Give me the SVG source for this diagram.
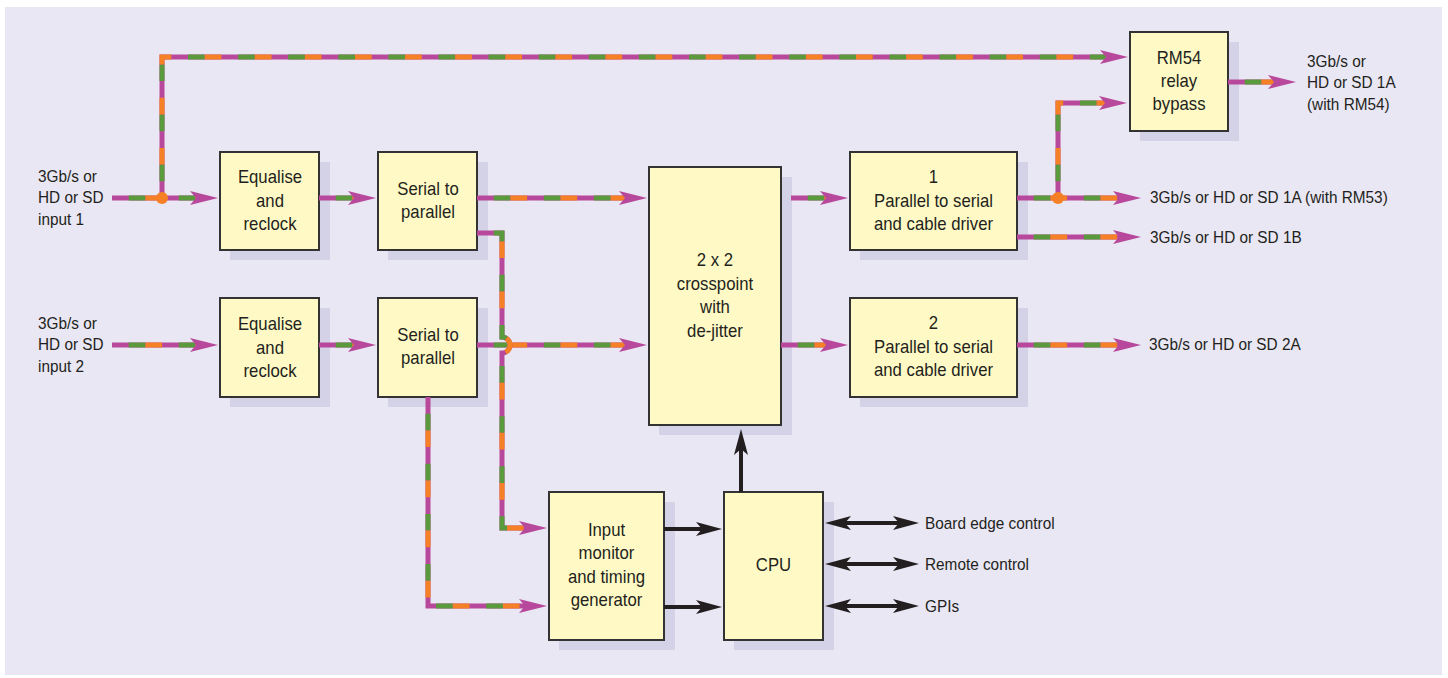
<svg xmlns="http://www.w3.org/2000/svg" xmlns:xlink="http://www.w3.org/1999/xlink" width="1448" height="678" viewBox="0 0 1448 678">
<style>
.bg{fill:#e9e7f3}
.sh{fill:#d4d2e7}
.box{fill:#fffac5;stroke:#333;stroke-width:2}
.t{font-family:"Liberation Sans",Arial,sans-serif;font-size:18px;fill:#231f20}
.l{font-family:"Liberation Sans",Arial,sans-serif;font-size:16.5px;fill:#231f20}
.w{fill:none;stroke-width:5}
.m{stroke:#b8489b}
.g{stroke:#5a9a3c;stroke-dasharray:16.7 33.4;stroke-dashoffset:-16.7}
.o{stroke:#f58025;stroke-dasharray:16.7 33.4;stroke-dashoffset:-33.4;marker-end:url(#ah)}
.k{fill:none;stroke:#231f20;stroke-width:4}
</style>
<defs>
<marker id="ah" markerUnits="userSpaceOnUse" markerWidth="28" markerHeight="16" viewBox="0 0 28 16" refX="14" refY="8" orient="auto" overflow="visible">
<path d="M0,1 L28,8 L0,15 L6,8 Z" fill="#b8489b"/>
</marker>
<marker id="kh" markerUnits="userSpaceOnUse" markerWidth="26" markerHeight="14" viewBox="0 0 26 14" refX="12" refY="7" orient="auto-start-reverse" overflow="visible">
<path d="M0,0 L26,7 L0,14 L6,7 Z" fill="#231f20"/>
</marker>
<path id="c1" d="M112,198 H204"/>
<path id="c2" d="M162,198 V57 H1114"/>
<path id="c3" d="M319,198 H362"/>
<path id="c4" d="M477,198 H633"/>
<path id="c5" d="M477,233 H502 V337 A8,8 0 0 1 502,353 V528 H533"/>
<path id="c6" d="M112,345 H204"/>
<path id="c7" d="M319,345 H362"/>
<path id="c8" d="M477,345 H633"/>
<path id="c9" d="M428,397 V606 H533"/>
<path id="c10" d="M791,198 H834"/>
<path id="c11" d="M781,345 H834"/>
<path id="c12" d="M1017,198 H1127"/>
<path id="c13" d="M1058,198 V103 H1113"/>
<path id="c14" d="M1017,237 H1127"/>
<path id="c15" d="M1017,345 H1127"/>
<path id="c16" d="M1228,82 H1282"/>
</defs>
<rect class="bg" x="5" y="7" width="1437" height="668"/>
<g id="eq1"><rect class="sh" x="230" y="162" width="100" height="98"/><rect class="box" x="220" y="152" width="99" height="98"/>
<text class="t" text-anchor="middle" transform="translate(270,0) scale(0.93,1)"><tspan x="0" y="183">Equalise</tspan><tspan x="0" y="207">and</tspan><tspan x="0" y="230">reclock</tspan></text></g>
<g id="sp1"><rect class="sh" x="388" y="162" width="100" height="98"/><rect class="box" x="378" y="152" width="99" height="98"/>
<text class="t" text-anchor="middle" transform="translate(428,0) scale(0.93,1)"><tspan x="0" y="195">Serial to</tspan><tspan x="0" y="218">parallel</tspan></text></g>
<g id="eq2"><rect class="sh" x="230" y="308" width="100" height="99"/><rect class="box" x="220" y="298" width="99" height="99"/>
<text class="t" text-anchor="middle" transform="translate(270,0) scale(0.93,1)"><tspan x="0" y="330">Equalise</tspan><tspan x="0" y="354">and</tspan><tspan x="0" y="377">reclock</tspan></text></g>
<g id="sp2"><rect class="sh" x="388" y="308" width="100" height="99"/><rect class="box" x="378" y="298" width="99" height="99"/>
<text class="t" text-anchor="middle" transform="translate(428,0) scale(0.93,1)"><tspan x="0" y="341">Serial to</tspan><tspan x="0" y="364">parallel</tspan></text></g>
<g id="xp"><rect class="sh" x="659" y="177" width="133" height="258"/><rect class="box" x="649" y="167" width="132" height="258"/>
<text class="t" text-anchor="middle" transform="translate(715,0) scale(0.93,1)"><tspan x="0" y="266">2 x 2</tspan><tspan x="0" y="290">crosspoint</tspan><tspan x="0" y="313">with</tspan><tspan x="0" y="337">de-jitter</tspan></text></g>
<g id="p1"><rect class="sh" x="860" y="162" width="168" height="98"/><rect class="box" x="850" y="152" width="167" height="98"/>
<text class="t" text-anchor="middle" transform="translate(933.500,0) scale(0.93,1)"><tspan x="0" y="183">1</tspan><tspan x="0" y="207">Parallel to serial</tspan><tspan x="0" y="230">and cable driver</tspan></text></g>
<g id="p2"><rect class="sh" x="860" y="308" width="168" height="99"/><rect class="box" x="850" y="298" width="167" height="99"/>
<text class="t" text-anchor="middle" transform="translate(933.500,0) scale(0.93,1)"><tspan x="0" y="329">2</tspan><tspan x="0" y="353">Parallel to serial</tspan><tspan x="0" y="376">and cable driver</tspan></text></g>
<g id="rm54"><rect class="sh" x="1140" y="42" width="99" height="99"/><rect class="box" x="1130" y="32" width="98" height="99"/>
<text class="t" text-anchor="middle" transform="translate(1179,0) scale(0.93,1)"><tspan x="0" y="64">RM54</tspan><tspan x="0" y="87">relay</tspan><tspan x="0" y="110">bypass</tspan></text></g>
<g id="mon"><rect class="sh" x="559" y="502" width="116" height="148"/><rect class="box" x="549" y="492" width="115" height="148"/>
<text class="t" text-anchor="middle" transform="translate(606.500,0) scale(0.93,1)"><tspan x="0" y="536">Input</tspan><tspan x="0" y="559">monitor</tspan><tspan x="0" y="583">and timing</tspan><tspan x="0" y="606">generator</tspan></text></g>
<g id="cpu"><rect class="sh" x="734" y="502" width="100" height="148"/><rect class="box" x="724" y="492" width="99" height="148"/>
<text class="t" text-anchor="middle" transform="translate(773.500,0) scale(0.93,1)"><tspan x="0" y="571">CPU</tspan></text></g>
<g id="connectors">
<g class="w"><use xlink:href="#c1" class="m"/><use xlink:href="#c1" class="g"/><use xlink:href="#c1" class="o"/></g>
<g class="w"><use xlink:href="#c2" class="m"/><use xlink:href="#c2" class="g"/><use xlink:href="#c2" class="o"/></g>
<g class="w"><use xlink:href="#c3" class="m"/><use xlink:href="#c3" class="g"/><use xlink:href="#c3" class="o"/></g>
<g class="w"><use xlink:href="#c4" class="m"/><use xlink:href="#c4" class="g"/><use xlink:href="#c4" class="o"/></g>
<g class="w"><use xlink:href="#c6" class="m"/><use xlink:href="#c6" class="g"/><use xlink:href="#c6" class="o"/></g>
<g class="w"><use xlink:href="#c7" class="m"/><use xlink:href="#c7" class="g"/><use xlink:href="#c7" class="o"/></g>
<g class="w"><use xlink:href="#c8" class="m"/><use xlink:href="#c8" class="g"/><use xlink:href="#c8" class="o"/></g>
<g class="w"><use xlink:href="#c5" class="m"/><use xlink:href="#c5" class="g"/><use xlink:href="#c5" class="o"/></g>
<g class="w"><use xlink:href="#c9" class="m"/><use xlink:href="#c9" class="g"/><use xlink:href="#c9" class="o"/></g>
<g class="w"><use xlink:href="#c10" class="m"/><use xlink:href="#c10" class="g"/><use xlink:href="#c10" class="o"/></g>
<g class="w"><use xlink:href="#c11" class="m"/><use xlink:href="#c11" class="g"/><use xlink:href="#c11" class="o"/></g>
<g class="w"><use xlink:href="#c12" class="m"/><use xlink:href="#c12" class="g"/><use xlink:href="#c12" class="o"/></g>
<g class="w"><use xlink:href="#c13" class="m"/><use xlink:href="#c13" class="g"/><use xlink:href="#c13" class="o"/></g>
<g class="w"><use xlink:href="#c14" class="m"/><use xlink:href="#c14" class="g"/><use xlink:href="#c14" class="o"/></g>
<g class="w"><use xlink:href="#c15" class="m"/><use xlink:href="#c15" class="g"/><use xlink:href="#c15" class="o"/></g>
<g class="w"><use xlink:href="#c16" class="m"/><use xlink:href="#c16" class="g"/><use xlink:href="#c16" class="o"/></g>
<circle cx="162" cy="198" r="6" fill="#f58025"/>
<circle cx="1058" cy="198" r="6" fill="#f58025"/>
<path class="k" d="M741,492 V443" marker-end="url(#kh)"/>
<path class="k" d="M664,529 H708" marker-end="url(#kh)"/>
<path class="k" d="M664,607 H708" marker-end="url(#kh)"/>
<path class="k" d="M839,523 H905" marker-start="url(#kh)" marker-end="url(#kh)"/>
<path class="k" d="M839,564 H905" marker-start="url(#kh)" marker-end="url(#kh)"/>
<path class="k" d="M839,606 H905" marker-start="url(#kh)" marker-end="url(#kh)"/>
</g>
<g id="labels">
<text class="l" transform="translate(38,0) scale(0.93,1)"><tspan x="0" y="182">3Gb/s or</tspan><tspan x="0" y="203">HD or SD</tspan><tspan x="0" y="225">input 1</tspan></text>
<text class="l" transform="translate(38,0) scale(0.93,1)"><tspan x="0" y="329">3Gb/s or</tspan><tspan x="0" y="350">HD or SD</tspan><tspan x="0" y="372">input 2</tspan></text>
<text class="l" transform="translate(1307,0) scale(0.93,1)"><tspan x="0" y="67">3Gb/s or</tspan><tspan x="0" y="88">HD or SD 1A</tspan><tspan x="0" y="110">(with RM54)</tspan></text>
<text class="l" transform="translate(1150,0) scale(0.93,1)"><tspan x="0" y="203">3Gb/s or HD or SD 1A (with RM53)</tspan></text>
<text class="l" transform="translate(1150,0) scale(0.93,1)"><tspan x="0" y="243">3Gb/s or HD or SD 1B</tspan></text>
<text class="l" transform="translate(1149,0) scale(0.93,1)"><tspan x="0" y="350">3Gb/s or HD or SD 2A</tspan></text>
<text class="l" transform="translate(925,0) scale(0.93,1)"><tspan x="0" y="529">Board edge control</tspan></text>
<text class="l" transform="translate(925,0) scale(0.93,1)"><tspan x="0" y="570">Remote control</tspan></text>
<text class="l" transform="translate(925,0) scale(0.93,1)"><tspan x="0" y="612">GPIs</tspan></text>
</g>
</svg>
